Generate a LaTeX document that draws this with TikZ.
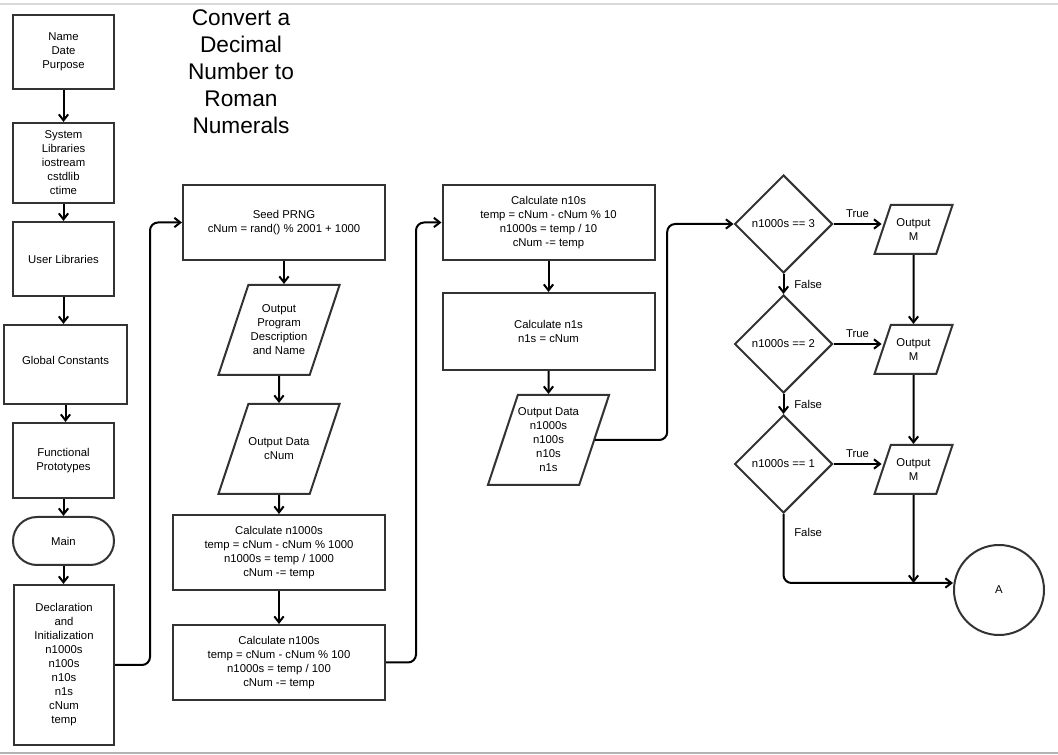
\documentclass[tikz,border=0pt]{standalone}
\usepackage{fontspec}
\setmainfont{Liberation Sans}
\usetikzlibrary{positioning, shapes.geometric, arrows.meta}
\definecolor{boxline}{HTML}{333333}

% text block of fixed height for the data shapes
\newcommand{\iotext}[3]{\begin{minipage}[c][#2][c]{#1}\centering #3\end{minipage}}

\tikzset{
  base/.style={draw=boxline, line width=1.5pt, align=center, font=\fontsize{8.5}{10.5}\selectfont, inner sep=2pt},
  proc/.style={base, rectangle},
  io/.style={base, trapezium, trapezium left angle=71.6, trapezium right angle=108.4, trapezium stretches body, inner sep=0pt},
  decide/.style={base, diamond, minimum width=73.5pt, minimum height=73.5pt, inner sep=1pt},
  term/.style={base, rectangle, rounded corners=18pt},
  flow/.style={line width=1.5pt, -{Straight Barb[length=4.5pt,width=7pt]}},
  lbl/.style={font=\fontsize{8.5}{10.5}\selectfont}
}

\begin{document}
\begin{tikzpicture}[x=0.75pt, y=-0.75pt]
    \useasboundingbox (0,0) rectangle (1058,755);

    % Page edges
    \draw[gray!30, line width=1pt] (0,4) -- (1058,4);
    \draw[gray!60, line width=1pt] (0,753) -- (1058,753);

    % Title
    \node (title) at (241,72) [align=center, font=\fontsize{17}{20.25}\selectfont] {Convert a\\Decimal\\Number to\\Roman\\Numerals};

    % Header column
    \node[proc, minimum width=75.75pt, minimum height=55.5pt] (name) at (63.5,52) {Name\\Date\\Purpose};
    \node[proc, minimum width=75.75pt, minimum height=60pt] (syslib) at (63.5,163) {System\\Libraries\\iostream\\cstdlib\\ctime};
    \node[proc, minimum width=75.75pt, minimum height=55.5pt] (userlib) at (63.5,259) {User Libraries};
    \node[proc, minimum width=92.25pt, minimum height=59.25pt, text depth=6pt] (globals) at (65.5,364.5) {Global Constants};
    \node[proc, minimum width=75.75pt, minimum height=56.25pt] (protos) at (63.5,460.5) {Functional\\Prototypes};
    \node[term, minimum width=75.75pt, minimum height=36pt] (main) at (63.5,541) {Main};
    \node[proc, minimum width=75pt, minimum height=120pt] (decl) at (64,665) {Declaration\\and\\Initialization\\n1000s\\n100s\\n10s\\n1s\\cNum\\temp};

    % Second column
    \node[proc, minimum width=151.5pt, minimum height=56.25pt] (seed) at (284,222.5) {Seed PRNG\\cNum = rand() \% 2001 + 1000};
    \node[io] (outprog) at (279,330) {\iotext{46pt}{67.5pt}{Output\\Program\\Description\\and Name}};
    \node[io] (outcnum) at (279,449) {\iotext{46pt}{67.5pt}{Output Data\\cNum}};
    \node[proc, minimum width=159pt, minimum height=56.25pt] (calcK) at (279,552.5) {Calculate n1000s\\temp = cNum - cNum \% 1000\\n1000s = temp / 1000\\cNum -= temp};
    \node[proc, minimum width=159pt, minimum height=56.25pt] (calcH) at (279,662.5) {Calculate n100s\\temp = cNum - cNum \% 100\\n1000s = temp / 100\\cNum -= temp};

    % Third column
    \node[proc, minimum width=159pt, minimum height=56.25pt] (calcT) at (548.5,222.5) {Calculate n10s\\temp = cNum - cNum \% 10\\n1000s = temp / 10\\cNum -= temp};
    \node[proc, minimum width=159pt, minimum height=57.75pt] (calcO) at (548.5,331.5) {Calculate n1s\\n1s = cNum};
    \node[io] (outdata) at (548.5,440) {\iotext{46pt}{67.5pt}{Output Data\\n1000s\\n100s\\n10s\\n1s}};

    % Decisions
    \foreach \n/\y in {3/224, 2/344, 1/464} {
      \node[decide] (d\n) at (783.5,\y) {n1000s == \n};
      \node[io, minimum width=58.5pt] (m\n) at (913.5,\y+5.5) {\iotext{28pt}{36.75pt}{Output\\M}};
    }
    \node[base, circle, minimum size=67.5pt] (circA) at (999,590) {A};
    \coordinate (join) at (913.5,583);

    % Connectors
    \foreach \a/\b in {name/syslib, syslib/userlib, userlib/globals, globals/protos, protos/main, main/decl}
      \draw[flow] (\a.south) -- (\a.south |- \b.north);
    \draw[flow, rounded corners=6pt] (decl.east) -- ++(35,0) |- (seed.west);
    \draw[flow] (seed.south) -- (seed.south |- outprog.north);
    \draw[flow] (outprog) -- (outcnum);
    \draw[flow] (outcnum) -- (calcK);
    \draw[flow] (calcK) -- (calcH);
    \draw[flow, rounded corners=6pt] (calcH.east) -- ++(30,0) |- (calcT.west);
    \draw[flow] (calcT) -- (calcO);
    \draw[flow] (calcO) -- (outdata);
    \draw[flow, rounded corners=6pt] (outdata.east) -- ++(72,0) |- (d3.west);

    \foreach \n in {3,2,1}
      \draw[flow] (d\n) -- node[lbl, above=1pt] {True} (d\n -| m\n.west);
    \draw[flow] (d3) -- node[lbl, right=4pt] {False} (d2);
    \draw[flow] (d2) -- node[lbl, right=4pt] {False} (d1);
    \draw[flow] (m3) -- (m2);
    \draw[flow] (m2) -- (m1);
    \draw[flow] (m1) -- (join);
    \draw[flow, rounded corners=6pt] (d1) -- node[lbl, right=4pt, pos=0.27] {False} (d1 |- join) -- (circA.west |- join);
\end{tikzpicture}
\end{document}
